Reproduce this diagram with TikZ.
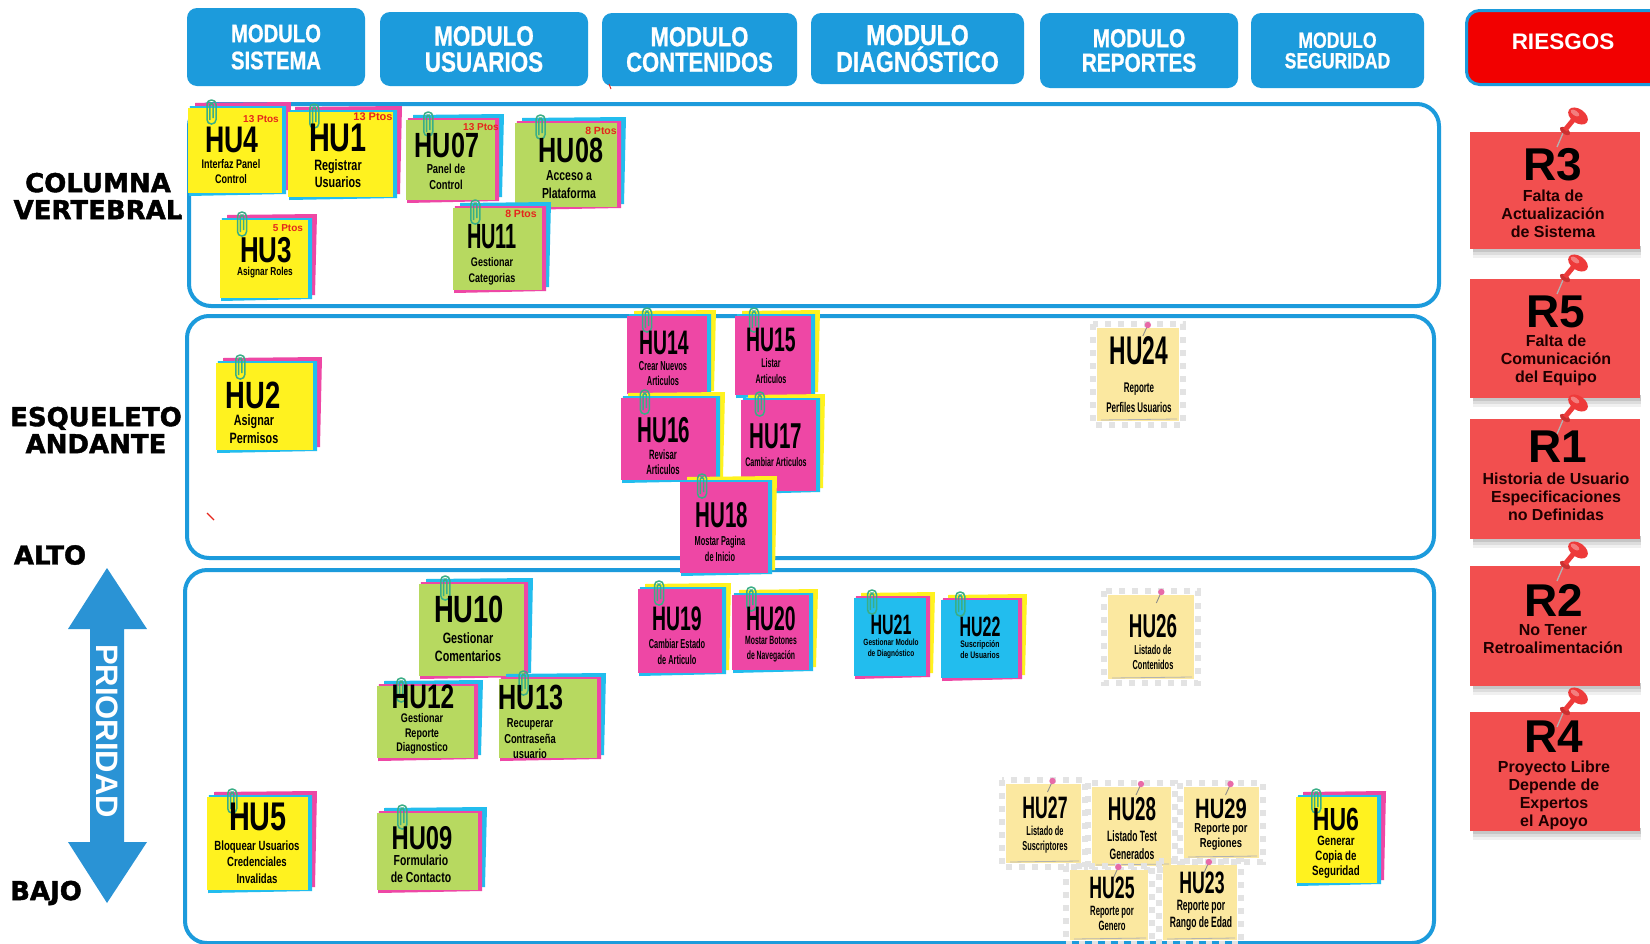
\documentclass[tikz,border=0pt]{standalone}
\usepackage{fontspec}
\setmainfont{Liberation Sans}
\newfontfamily\condb{Liberation Sans}[UprightFont={* Bold}, FakeStretch=0.72]
\newfontfamily\xcondb{Liberation Sans}[UprightFont={* Bold}, FakeStretch=0.57]
\newfontfamily\hdb{Liberation Sans}[UprightFont={* Bold}, FakeStretch=0.8, FakeBold=0.8]
\newfontfamily\plainb{Liberation Sans}[UprightFont={* Bold}]
\newfontfamily\wideb{DejaVu Sans}[UprightFont={* Bold}, FakeBold=1.6]
\usetikzlibrary{calc}

\definecolor{modblue}{HTML}{1C9BDC}
\definecolor{arrblue}{HTML}{2A93D5}
\definecolor{nyel}{HTML}{FFF21F}
\definecolor{nmag}{HTML}{EE47A5}
\definecolor{ngrn}{HTML}{B7D960}
\definecolor{ncyn}{HTML}{22BDEE}
\definecolor{npale}{HTML}{FBE8A0}
\definecolor{clipg}{HTML}{3AAE86}
\definecolor{riskred}{HTML}{F24F4F}
\definecolor{pinred}{HTML}{EE3A3A}
\definecolor{hdred}{HTML}{F20000}
\definecolor{ptsred}{HTML}{E5261C}
\definecolor{pinpink}{HTML}{E86AA8}

% sticky note with two sheets behind it and a paper clip
% #1 name, #2 face, #3 middle sheet, #4 back sheet, #5 left, #6 top, #7 right, #8 bottom
\newcommand\sticky[8]{%
  \fill[#4] (#5+7,#6-5) -- (#7+9,#6-6) -- (#7+7,#8-3) -- (#5+9,#8+1) -- cycle;
  \fill[#3] (#5+2,#6-2) -- (#7+4,#6-2) -- (#7+4,#8+1) -- (#5+1,#8+3) -- cycle;
  \node[sheet, fill=#2, minimum width={#7-#5}, minimum height={#8-#6}, anchor=north west] (#1) at (#5,#6) {};
  \pgfmathsetmacro\stcx{#5+0.25*(#7-#5)}%
  \draw[clipwire, rounded corners=4.3] (\stcx-4.5,#6-8) rectangle (\stcx+4.5,#6+16);
  \draw[clipwire, rounded corners=1.8] (\stcx+1.6,#6+10) -- (\stcx+1.6,#6-5) -- (\stcx-1.6,#6-5) -- (\stcx-1.6,#6+12);
}

% pale note cut out on a checkered ground, with a pin
% #1 name, #2 left, #3 top, #4 right, #5 bottom
\newcommand\pale[5]{%
  \draw[checker] (#2-4,#3-4) rectangle (#4+4,#5+4);
  \node[sheet, fill=npale, minimum width={#4-#2}, minimum height={#5-#3}, anchor=north west] (#1) at (#2,#3) {};
  \draw[black!30, line width=0.8] (#2+4,#5-1) -- (#4-2,#5-2);
  \pgfmathsetmacro\stcx{#2+0.62*(#4-#2)}%
  \draw[black!45, line width=0.9] (\stcx,#3-3) -- (\stcx-5,#3+8);
  \fill[pinpink] (\stcx,#3-3) circle (3.2pt);
}

% risk card with shadow and push pin
% #1 name, #2 top, #3 bottom
\newcommand\risk[3]{%
  \fill[black,opacity=0.06] (1473,#3-3) rectangle (1641,#3+9);
  \fill[black,opacity=0.08] (1473,#3-3) rectangle (1641,#3+6);
  \fill[black,opacity=0.10] (1473,#3-3) rectangle (1641,#3+3);
  \node[riskbox, minimum height={#3-#2}, anchor=north west] (#1) at (1470,#2) {};
  \draw[black!30, line width=1.3] (1563,#2+1) -- (1557,#2+15);
  \fill[pinred!85!black, rotate around={-35:(1565,#2-1)}] (1565,#2-1) ellipse [x radius=6pt, y radius=3pt];
  \draw[pinred, line width=5pt] (1565,#2-2) -- (1574,#2-13);
  \fill[pinred, rotate around={-35:(1578,#2-16)}] (1578,#2-16) ellipse [x radius=11pt, y radius=7pt];
  \fill[white, opacity=0.35, rotate around={-35:(1575,#2-19)}] (1575,#2-19) ellipse [x radius=5pt, y radius=2.5pt];
}

\begin{document}
\begin{tikzpicture}[x=1pt,y=-1pt,
  modbox/.style 2 args={fill=modblue, rounded corners=10, text=white, align=center, inner sep=0,
    font={\hdb\fontsize{#1}{#2}\selectfont}},
  lane/.style={draw=modblue, line width=4, rounded corners=22, inner sep=0},
  sheet/.style={inner sep=0, outer sep=0},
  clipwire/.style={draw=clipg, line width=1.5},
  checker/.style={draw=black!11, line width=6, dash pattern=on 6pt off 7pt},
  ttl/.style={inner sep=0, font={\condb\fontsize{#1}{#1}\selectfont}},
  xttl/.style={inner sep=0, font={\xcondb\fontsize{#1}{#1}\selectfont}},
  dsc/.style 2 args={inner sep=0, align=center, font={\condb\fontsize{#1}{#2}\selectfont}},
  xdsc/.style 2 args={inner sep=0, align=center, font={\xcondb\fontsize{#1}{#2}\selectfont}},
  pts/.style={inner sep=0, text=ptsred, font={\plainb\fontsize{#1}{#1}\selectfont}},
  riskbox/.style={fill=riskred, inner sep=0, minimum width=170},
  rttl/.style={inner sep=0, font={\plainb\fontsize{46}{46}\selectfont}},
  rdsc/.style={inner sep=0, align=center, text=black!88!red, font={\plainb\fontsize{16}{18}\selectfont}},
  sidelbl/.style={inner sep=0, align=center, font={\wideb\fontsize{26}{27}\selectfont}},
]
\useasboundingbox (0,0) rectangle (1650,943);
\fill[white] (0,0) rectangle (1650,943);

% module headers
\node[modbox={25.3}{27}, minimum width=178, minimum height=78] (msis) at (276,47) {MODULO\\SISTEMA};
\node[modbox={28}{26}, minimum width=208, minimum height=74] (musu) at (484,49) {MODULO\\USUARIOS};
\node[modbox={27.5}{25.5}, minimum width=195, minimum height=73] (mcon) at (699.5,49.5) {MODULO\\CONTENIDOS};
\node[modbox={28.8}{25}, minimum width=213, minimum height=71] (mdia) at (917.5,48.5) {MODULO\\DIAGNÓSTICO};
\node[modbox={26}{24.5}, minimum width=198, minimum height=75] (mrep) at (1139,50.5) {MODULO\\REPORTES};
\node[modbox={22}{20.5}, minimum width=173, minimum height=75] (mseg) at (1337.5,50.5) {MODULO\\SEGURIDAD};
\draw[ptsred, line width=1] (609,84) -- (611,89);

% risks header
\node[draw=modblue, line width=3, fill=hdred, rounded corners=13, minimum width=200, minimum height=74,
      anchor=north west, inner sep=0] (ries) at (1465,9) {};
\node[text=white, inner sep=0, font={\plainb\fontsize{22.5}{22.5}\selectfont}] (riest) at (1563,42) {RIESGOS};

% swim lanes
\node[lane, minimum width=1250, minimum height=202, anchor=north west] (lane1) at (187,102) {};
\node[lane, minimum width=1247, minimum height=242, anchor=north west] (lane2) at (185,314) {};
\node[lane, minimum width=1249, minimum height=373, anchor=north west] (lane3) at (183,568) {};
\fill[black!80] (180,215) circle (1.5pt);
\draw[ptsred, line width=1.2] (207,513) -- (214,520);

% side labels
\node[sidelbl] (colv) at (98,196) {COLUMNA\\VERTEBRAL};
\node[sidelbl] (esqa) at (96,430) {ESQUELETO\\ANDANTE};
\node[sidelbl] (alto) at (50,555) {ALTO};
\node[sidelbl] (bajo) at (46,893) {BAJO};

% priority arrow
\fill[arrblue] (107,568) -- (147,629) -- (124,629) -- (124,842) -- (147,842) -- (107,903)
  -- (68,842) -- (90,842) -- (90,629) -- (68,629) -- cycle;
\node[rotate=-90, text=white, inner sep=0, font={\plainb\fontsize{31}{31}\selectfont}] (prio) at (107,731) {PRIORIDAD};

% ---- backbone lane
\sticky{hu4}{nyel}{ncyn}{nmag}{188}{108}{282}{193}
\node[ttl=37] (hu4t) at (232,140) {HU4};
\node[dsc={12.5}{15}] (hu4d) at (231,172) {Interfaz Panel\\Control};
\node[pts=10] (hu4p) at (261,119) {13 Ptos};

\sticky{hu1}{nyel}{ncyn}{nmag}{288}{112}{393}{197}
\node[ttl=40] (hu1t) at (338,138) {HU1};
\node[dsc={15}{17}] (hu1d) at (338,174) {Registrar\\Usuarios};
\node[pts=11] (hu1p) at (373,117) {13 Ptos};

\sticky{hu07}{ngrn}{nmag}{ncyn}{406}{120}{495}{200}
\node[ttl=35] (hu07t) at (447,145) {HU07};
\node[dsc={13}{16}] (hu07d) at (446,177) {Panel de\\Control};
\node[pts=10] (hu07p) at (481,127) {13 Ptos};

\sticky{hu08}{ngrn}{nmag}{ncyn}{515}{123}{617}{207}
\node[ttl=35] (hu08t) at (571,150) {HU08};
\node[dsc={14.5}{18}] (hu08d) at (569,185) {Acceso a\\Plataforma};
\node[pts=10.5] (hu08p) at (601,131) {8 Ptos};

\sticky{hu3}{nyel}{ncyn}{nmag}{220}{220}{308}{298}
\node[ttl=36] (hu3t) at (266,250) {HU3};
\node[dsc={11.5}{13}] (hu3d) at (265,273) {Asignar Roles};
\node[pts=10] (hu3p) at (288,228) {5 Ptos};

\sticky{hu11}{ngrn}{nmag}{ncyn}{453}{208}{542}{290}
\node[xttl=35] (hu11t) at (492,237) {HU11};
\node[dsc={12.5}{16}] (hu11d) at (492,271) {Gestionar\\Categorias};
\node[pts=10.5] (hu11p) at (521,214) {8 Ptos};

% ---- walking skeleton lane
\sticky{hu2}{nyel}{ncyn}{nmag}{216}{363}{313}{450}
\node[ttl=38] (hu2t) at (253,395) {HU2};
\node[dsc={15}{18}] (hu2d) at (254,429) {Asignar\\Permisos};

\sticky{hu14}{nmag}{ncyn}{nyel}{627}{316}{707}{394}
\node[xttl=34] (hu14t) at (664,343) {HU14};
\node[xdsc={13}{15}] (hu14d) at (663,374) {Crear Nuevos\\Articulos};

\sticky{hu15}{nmag}{ncyn}{nyel}{735}{316}{811}{395}
\node[xttl=34] (hu15t) at (771,340) {HU15};
\node[xdsc={12.5}{15.5}] (hu15d) at (771,371) {Listar\\Articulos};

\sticky{hu16}{nmag}{ncyn}{nyel}{621}{398}{716}{480}
\node[xttl=36] (hu16t) at (664,430) {HU16};
\node[xdsc={13.5}{15.5}] (hu16d) at (663,462) {Revisar\\Articulos};

\sticky{hu17}{nmag}{ncyn}{nyel}{741}{400}{816}{491}
\node[xttl=36] (hu17t) at (776,436) {HU17};
\node[xdsc={12.5}{15}] (hu17d) at (776,462) {Cambiar Articulos};

\sticky{hu18}{nmag}{ncyn}{nyel}{680}{482}{768}{573}
\node[xttl=36] (hu18t) at (722,515) {HU18};
\node[xdsc={13}{16}] (hu18d) at (720,549) {Mostar Pagina\\de Inicio};

\pale{hu24}{1097}{328}{1179}{421}
\node[xttl=40] (hu24t) at (1139,351) {HU24};
\node[xdsc={14}{20}] (hu24d) at (1139,398) {Reporte\\Perfiles Usuarios};

% ---- remaining lane
\sticky{hu10}{ngrn}{nmag}{ncyn}{419}{584}{524}{676}
\node[ttl=38] (hu10t) at (469,609) {HU10};
\node[dsc={15}{18}] (hu10d) at (468,647) {Gestionar\\Comentarios};

\sticky{hu12}{ngrn}{nmag}{ncyn}{377}{686}{474}{758}
\node[ttl=34] (hu12t) at (423,697) {HU12};
\node[dsc={12.5}{14.5}] (hu12d) at (422,734) {Gestionar\\Reporte\\Diagnostico};

\sticky{hu13}{ngrn}{nmag}{ncyn}{499}{679}{597}{758}
\node[ttl=35] (hu13t) at (531,697) {HU13};
\node[dsc={13}{15.5}] (hu13d) at (530,739) {Recuperar\\Contraseña\\usuario};

\sticky{hu19}{nmag}{ncyn}{nyel}{638}{589}{722}{673}
\node[xttl=34] (hu19t) at (677,619) {HU19};
\node[xdsc={13}{16}] (hu19d) at (677,652) {Cambiar Estado\\de Articulo};

\sticky{hu20}{nmag}{ncyn}{nyel}{732}{595}{809}{670}
\node[xttl=34] (hu20t) at (771,619) {HU20};
\node[xdsc={12}{15}] (hu20d) at (771,649) {Mostar Botones\\de Navegación};

\sticky{hu21}{ncyn}{nmag}{nyel}{854}{598}{926}{676}
\node[xttl=28] (hu21t) at (891,625) {HU21};
\node[dsc={9}{11}] (hu21d) at (891,649) {Gestionar Modulo\\de Diagnóstico};

\sticky{hu22}{ncyn}{nmag}{nyel}{941}{600}{1018}{678}
\node[xttl=28] (hu22t) at (980,627) {HU22};
\node[dsc={9.5}{11}] (hu22d) at (980,650) {Suscripción\\de Usuarios};

\pale{hu26}{1108}{595}{1194}{679}
\node[xttl=33] (hu26t) at (1153,626) {HU26};
\node[xdsc={13}{15}] (hu26d) at (1153,657) {Listado de\\Contenidos};

\sticky{hu5}{nyel}{ncyn}{nmag}{207}{797}{308}{890}
\node[ttl=40] (hu5t) at (258,817) {HU5};
\node[dsc={13.3}{16.5}] (hu5d) at (257,862) {Bloquear Usuarios\\Credenciales\\Invalidas};

\sticky{hu09}{ngrn}{nmag}{ncyn}{377}{813}{478}{890}
\node[ttl=33] (hu09t) at (422,838) {HU09};
\node[dsc={14.5}{17}] (hu09d) at (421,869) {Formulario\\de Contacto};

\pale{hu27}{1006}{784}{1081}{863}
\node[xttl=31] (hu27t) at (1045,808) {HU27};
\node[xdsc={13}{15}] (hu27d) at (1045,840) {Listado de\\Suscriptores};

\pale{hu28}{1092}{787}{1171}{866}
\node[xttl=33] (hu28t) at (1132,809) {HU28};
\node[xdsc={15}{18}] (hu28d) at (1132,845) {Listado Test\\Generados};

\pale{hu29}{1184}{787}{1259}{858}
\node[ttl=28] (hu29t) at (1221,809) {HU29};
\node[dsc={13}{15}] (hu29d) at (1221,837) {Reporte por\\Regiones};

\pale{hu25}{1070}{870}{1148}{940}
\node[xttl=31] (hu25t) at (1112,888) {HU25};
\node[xdsc={13.5}{15}] (hu25d) at (1112,918) {Reporte por\\Genero};

\pale{hu23}{1163}{865}{1237}{940}
\node[xttl=31] (hu23t) at (1202,883) {HU23};
\node[xdsc={15}{17}] (hu23d) at (1201,915) {Reporte por\\Rango de Edad};

\sticky{hu6}{nyel}{ncyn}{nmag}{1296}{797}{1377}{883}
\node[ttl=32] (hu6t) at (1336,819) {HU6};
\node[dsc={13.5}{15}] (hu6d) at (1336,857) {Generar\\Copia de\\Seguridad};

% ---- risks
\risk{r3}{132}{249}
\node[rttl] (r3t) at (1553,165) {R3};
\node[rdsc] (r3d) at (1553,213.5) {Falta de\\Actualización\\de Sistema};

\risk{r5}{279}{398}
\node[rttl] (r5t) at (1556,312) {R5};
\node[rdsc] (r5d) at (1556,360.5) {Falta de\\Comunicación\\del Equipo};

\risk{r1}{419}{539}
\node[rttl] (r1t) at (1558,447) {R1};
\node[rdsc] (r1d) at (1556,496.5) {Historia de Usuario\\Especificaciones\\no Definidas};

\risk{r2}{566}{686}
\node[rttl] (r2t) at (1554,600) {R2};
\node[rdsc] (r2d) at (1553,639.5) {No Tener\\Retroalimentación};

\risk{r4}{712}{831}
\node[rttl] (r4t) at (1554,737) {R4};
\node[rdsc] (r4d) at (1554,795) {Proyecto Libre\\Depende de\\Expertos\\el Apoyo};
\end{tikzpicture}
\end{document}
